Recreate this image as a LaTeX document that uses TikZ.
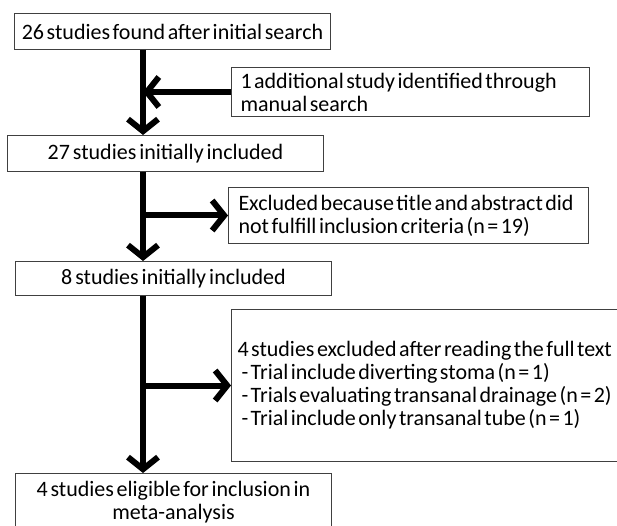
\documentclass[tikz,border=0pt]{standalone}
\usepackage{fontspec}
\setmainfont{Carlito}
\usetikzlibrary{arrows.meta}
\newcommand\tightsp{\spaceskip=2.5pt plus 0.5pt\relax}
\begin{document}
\begin{tikzpicture}[x=1pt,y=-1pt,
  box/.style={draw=black!75, line width=1pt, inner ysep=0pt, anchor=north west,
    font=\fontsize{22}{23}\selectfont, execute at begin node=\tightsp},
  cbox/.style={box, inner xsep=0pt, minimum width=316pt, text width=316pt, align=center},
  lbox/.style={box, align=left},
  flow/.style={line width=6pt, -{Straight Barb[length=12pt,width=30pt,line join=miter,line cap=butt]}}]
\clip (0,0) rectangle (617,526);
\fill[white] (0,0) rectangle (617,526);
\node[cbox, minimum height=36pt] (b1) at (14,13) {26 studies found after initial search};
\node[lbox, minimum width=358pt, minimum height=49pt, inner xsep=9pt, text width=340pt] (b2) at (231,67)
  {1 additional study identified through\\manual search};
\node[cbox, minimum height=36pt] (b3) at (7,135) {27 studies initially included};
\node[lbox, minimum width=360pt, minimum height=56pt, inner xsep=10pt, text width=340pt] (b4) at (228,187)
  {Excluded because title and abstract did\\not fulfill inclusion criteria (n = 19)};
\node[cbox, minimum height=34pt] (b5) at (15,261) {8 studies initially included};
\node[lbox, minimum width=394pt, minimum height=152pt, inner xsep=6pt, text width=382pt] (b6) at (231,309)
  {4 studies excluded after reading the full text\\
   \hspace*{4pt}- Trial include diverting stoma (n = 1)\\
   \hspace*{4pt}- Trials evaluating transanal drainage (n = 2)\\
   \hspace*{4pt}- Trial include only transanal tube (n = 1)};
\node[cbox, minimum height=57pt] (b7) at (15,473) {4 studies eligible for inclusion in\\meta-analysis};
\coordinate (tx) at (143,0);
\draw[flow] (b1.south -| tx) -- (b3.north -| tx);
\draw[flow] (b2.west) -- (b2.west -| tx);
\draw[flow] (b4.west -| tx) -- (b4.west);
\draw[flow] (b3.south -| tx) -- (b5.north -| tx);
\draw[flow] (b6.west -| tx) -- (b6.west);
\draw[flow] (b5.south -| tx) -- (b7.north -| tx);
\end{tikzpicture}
\end{document}
